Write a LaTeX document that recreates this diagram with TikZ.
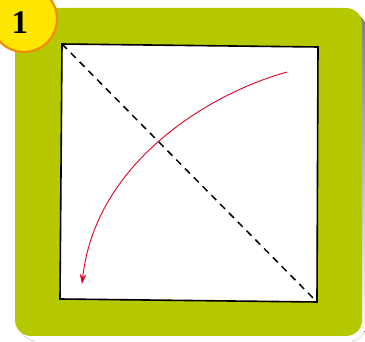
\documentclass[tikz,border=0pt]{standalone}
\usepackage{fontspec}
\newfontfamily\numfont{Liberation Serif}
\usetikzlibrary{arrows.meta}
\definecolor{leaf}{RGB}{181,200,0}
\definecolor{badge}{RGB}{255,230,0}
\definecolor{badgeedge}{RGB}{240,140,0}
\definecolor{foldred}{RGB}{225,0,40}
\definecolor{shade}{RGB}{220,220,220}
\tikzset{
  paper/.style={draw=black, line width=1.6pt, fill=white, line join=miter},
  foldline/.style={line width=1.5pt, dash pattern=on 7pt off 5.5pt},
  turn/.style={draw=foldred, line width=0.9pt, -{Stealth[length=10pt,width=6.5pt]}}
}
\begin{document}
\begin{tikzpicture}[x=1pt,y=-1pt]
\useasboundingbox (0,0) rectangle (365,342);
\begin{scope}
\clip (0,0) rectangle (365,342);
\fill[shade, rounded corners=16pt] (20,13) rectangle (366,341);
\fill[leaf, rounded corners=16pt] (15,8) rectangle (362,336);
\coordinate (tl) at (62,44);
\coordinate (tr) at (318,47);
\coordinate (br) at (317,302);
\coordinate (bl) at (60,299);
\draw[paper] (tl) -- (tr) -- (br) -- (bl) -- cycle;
\draw[foldline] (tl) -- (br);
\coordinate (s) at (287,72);
\coordinate (e) at (82,284);
\draw[turn] (s) .. controls (205,95) and (95,165) .. (e);
\node[circle, draw=badgeedge, line width=2.2pt, fill=badge, minimum size=66pt, inner sep=0pt] (badge) at (24,19) {};
\node[font=\numfont\bfseries\fontsize{33}{33}\selectfont, anchor=base] (num) at (20,34) {1};
\end{scope}
\end{tikzpicture}
\end{document}
